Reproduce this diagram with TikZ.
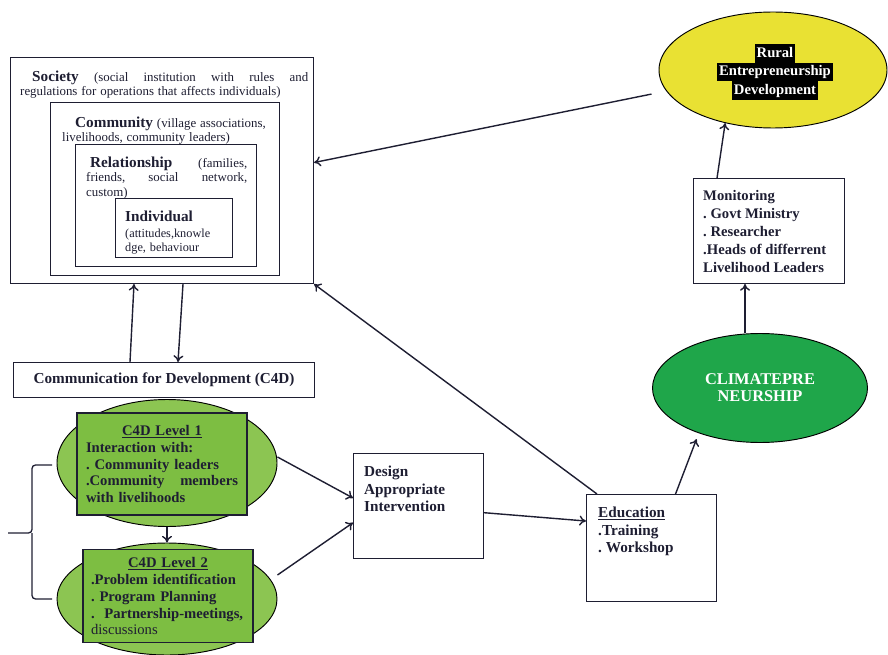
\documentclass[tikz,border=0pt]{standalone}
\usepackage{fontspec}
\setmainfont{Liberation Serif}
\usetikzlibrary{arrows.meta,positioning,shapes.geometric}
\definecolor{ink}{HTML}{1E1E32}
\definecolor{sunYellow}{HTML}{E9E133}
\definecolor{deepGreen}{HTML}{1FA64A}
\definecolor{leafGreen}{HTML}{8CC552}
\definecolor{cardGreen}{HTML}{7DBE42}
\newcommand{\setsz}[2]{\fontsize{#1}{#2}\selectfont}
\newcommand{\hlbox}[1]{{\setlength{\fboxsep}{0pt}\colorbox{black}{\strut\kern1.5pt\textcolor{white}{#1}\kern1.5pt}}}
\frenchspacing

\begin{document}
\begin{tikzpicture}[x=0.3mm,y=-0.3mm,
  frame/.style={draw=ink,line width=0.9pt,anchor=north west,inner sep=0pt},
  blurb/.style={anchor=north west,inner sep=0pt,align=left,text=ink},
  oval/.style={ellipse,draw=black,line width=0.8pt,inner sep=0pt},
  card/.style={draw=ink,line width=0.9pt,fill=cardGreen,inner sep=0pt,align=left,text=ink,
               font=\setsz{12.5}{14.5}\bfseries},
  arr/.style={-{To[length=2mm,width=3mm]},line width=1.2pt,draw=ink}
]
\useasboundingbox (0,0) rectangle (888,655);

% nested levels
\node[frame,minimum width=90.9mm,minimum height=67.8mm] (society) at (10,57) {};
\node[frame,minimum width=68.7mm,minimum height=51.9mm] (community) at (50,102) {};
\node[frame,minimum width=54.3mm,minimum height=36.6mm] (relation) at (75,144) {};
\node[frame,minimum width=35.1mm,minimum height=17.7mm] (individual) at (115,198) {};

\node[blurb,text width=86.4mm,below right=4.1mm and 3mm of society.north west] (societyTxt)
  {\setsz{11}{13.7}\hspace*{3.6mm}\textbf{\setsz{13}{13.7}Society}\hfill(social\hfill institution\hfill with\hfill rules\hfill and\\
   regulations for operations that affects individuals)};
\node[blurb,text width=64mm,below right=4.4mm and 3.6mm of community.north west] (communityTxt)
  {\setsz{11}{11.1}\hspace*{3.9mm}\textbf{\setsz{13}{11.1}Community} (village associations,\\
   livelihoods, community leaders)};
\node[blurb,text width=48.3mm,below right=3.8mm and 3.3mm of relation.north west] (relationTxt)
  {\setsz{11}{12.4}\hspace*{1.2mm}\textbf{\setsz{13}{12.4}Relationship}\hfill(families,\\
   friends,\hfill social\hfill network,\\
   custom)};
\node[blurb,text width=30mm,below right=3.8mm and 3mm of individual.north west] (individualTxt)
  {\setsz{10.5}{12}\textbf{\setsz{13}{12}Individual}\\[1.6pt]
   (attitudes,knowle\\
   dge, behaviour};

% right-hand chain
\node[oval,fill=sunYellow,minimum width=68.4mm,minimum height=34.8mm] (rural) at (773,70) {};
\node[align=center,inner sep=0pt,font=\setsz{12.5}{15.8}\bfseries] (ruralTxt) at (775,72)
  {\hlbox{Rural}\\\hlbox{Entrepreneurship}\\\hlbox{Development}};
\node[frame,minimum width=45.3mm,minimum height=31.5mm] (monitoring) at (693,178) {};
\node[blurb,font=\setsz{12.5}{15.4}\bfseries,below right=3.5mm and 3mm of monitoring.north west] (monitoringTxt)
  {Monitoring\\. Govt Ministry\\. Researcher\\.Heads of differrent\\Livelihood Leaders};
\node[oval,fill=deepGreen,minimum width=64.5mm,minimum height=32.7mm,align=center,text=white,
      font=\setsz{14}{14.5}\bfseries] (climate) at (760,388) {CLIMATEPRE\\NEURSHIP};

% C4D levels
\node[frame,minimum width=90.3mm,minimum height=10.5mm,text=ink,
      font=\setsz{13}{15}\bfseries] (c4d) at (13,362) {Communication for Development (C4D)};
\node[oval,fill=leafGreen,minimum width=66mm,minimum height=38.1mm] (lvlOne) at (167,463) {};
\node[card,minimum width=51mm,minimum height=30.6mm,text width=45.6mm] (lvlOneCard) at (162,464)
  {\hspace*{\fill}\underline{C4D Level 1}\hspace*{\fill}\null\\
   Interaction with:\\
   . Community leaders\\
   .Community\hfill members\\
   with livelihoods};
\node[oval,fill=leafGreen,minimum width=66mm,minimum height=33.6mm] (lvlTwo) at (167,599) {};
\node[card,minimum width=51mm,minimum height=27.9mm,text width=46.2mm] (lvlTwoCard) at (168,596)
  {\hspace*{\fill}\underline{C4D Level 2}\hspace*{\fill}\null\\
   .Problem identification\\
   . Program Planning\\
   .\ \ Partnership-meetings,\\
   {\mdseries discussions}};

\node[frame,minimum width=39mm,minimum height=31.5mm] (design) at (353,453) {};
\node[blurb,font=\setsz{13}{15}\bfseries,below right=3.8mm and 3.3mm of design.north west] (designTxt)
  {Design\\Appropriate\\Intervention};
\node[frame,minimum width=39mm,minimum height=32.1mm] (education) at (586,494) {};
\node[blurb,font=\setsz{13}{15}\bfseries,below right=3.8mm and 3.6mm of education.north west] (educationTxt)
  {\underline{Education}\\.Training\\. Workshop};

% bracket
\draw[ink,line width=1.1pt,rounded corners=3pt] (52,465) -- (32,465) -- (32,533) -- (8,533)
  (32,533) -- (32,599) -- (52,599);

% connectors
\draw[arr] ([shift={(-4mm,-1.5mm)}]rural.190) -- ([yshift=2.4mm]society.east);
\draw[arr] ([xshift=-15.6mm]monitoring.north) -- (rural.228);
\draw[arr] (climate.north -| 745,0) -- (monitoring.south -| 745,0);
\draw[arr] ([xshift=7.2mm]education.north) -- ([yshift=-2mm]climate.215);
\draw[arr] ([xshift=3.3mm]education.north west) -- (society.south east);
\draw[arr] ([yshift=-2mm]design.east) -- ([yshift=8.1mm]education.west);
\draw[arr] ([yshift=1.8mm]lvlOne.east) -- ([yshift=2.4mm]design.west);
\draw[arr] ([yshift=7.2mm]lvlTwo.east) -- ([yshift=-5mm]design.west);
\draw[arr] (lvlOne.south) -- (lvlTwo.north);
\draw[arr] (c4d.north -| 130,0) -- (society.south -| 134,0);
\draw[arr] (society.south -| 183,0) -- (c4d.north -| 178,0);
\end{tikzpicture}
\end{document}
